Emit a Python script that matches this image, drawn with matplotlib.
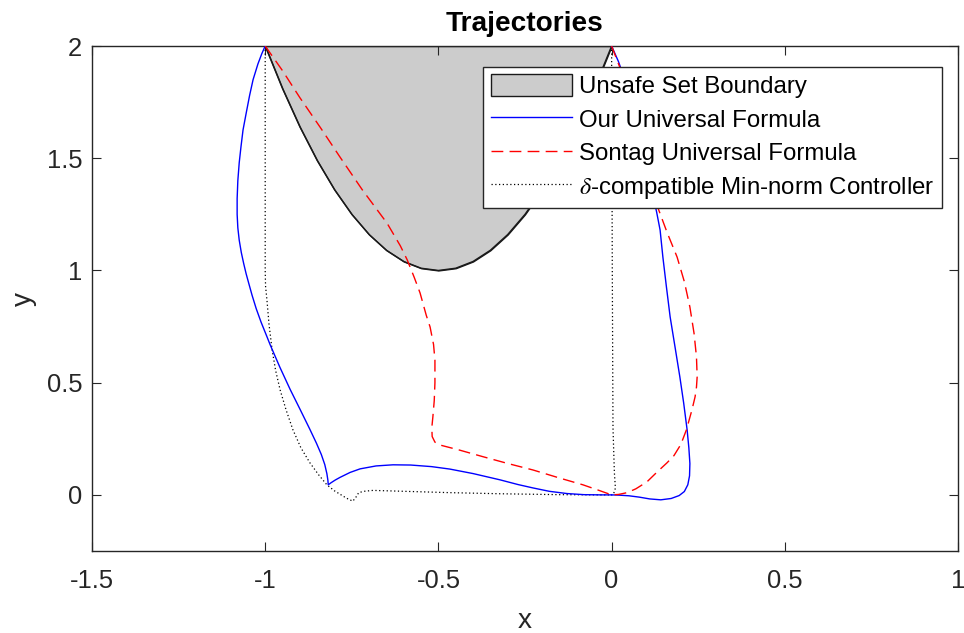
import matplotlib
matplotlib.use("Agg")
import matplotlib.pyplot as plt
from matplotlib.patches import Patch
from matplotlib.lines import Line2D

plt.rcParams["font.family"] = ["Liberation Sans", "DejaVu Sans"]
plt.rcParams["mathtext.fontset"] = "stix"

# Unsafe set boundary (parabola between x=-1 and x=0)
boundary_x = [-1.00, -0.95, -0.90, -0.85, -0.80, -0.75, -0.70, -0.65, -0.60, -0.55, -0.50,
              -0.45, -0.40, -0.35, -0.30, -0.25, -0.20, -0.15, -0.10, -0.05, 0.00]
boundary_y = [2.00, 1.81, 1.64, 1.49, 1.36, 1.25, 1.16, 1.09, 1.04, 1.01, 1.00,
              1.01, 1.04, 1.09, 1.16, 1.25, 1.36, 1.49, 1.64, 1.81, 2.00]

# Our universal formula: trajectory starting at (-1, 2)
ours_a_x = [-1.000, -1.010, -1.021, -1.035, -1.045, -1.055, -1.064, -1.070, -1.075, -1.079,
            -1.081, -1.081, -1.079, -1.075, -1.069, -1.062, -1.055, -1.047, -1.038, -1.026,
            -1.012, -0.995, -0.986, -0.958, -0.928, -0.899, -0.871, -0.852, -0.838, -0.828,
            -0.822, -0.819, -0.818, -0.810, -0.798, -0.784, -0.755, -0.726, -0.680, -0.631,
            -0.580, -0.520, -0.467, -0.400, -0.322, -0.270, -0.227, -0.180, -0.129, -0.080,
            -0.030, 0.000]
ours_a_y = [2.000, 1.965, 1.920, 1.850, 1.780, 1.700, 1.626, 1.550, 1.480, 1.400,
            1.320, 1.250, 1.190, 1.135, 1.080, 1.030, 0.985, 0.940, 0.890, 0.830,
            0.770, 0.705, 0.670, 0.570, 0.470, 0.380, 0.292, 0.230, 0.180, 0.135,
            0.095, 0.065, 0.045, 0.054, 0.066, 0.078, 0.100, 0.116, 0.129, 0.134,
            0.133, 0.126, 0.115, 0.095, 0.067, 0.046, 0.031, 0.016, 0.006, 0.001,
            0.000, 0.000]

# Our universal formula: trajectory starting at (0, 2)
ours_b_x = [0.000, 0.020, 0.045, 0.070, 0.095, 0.112, 0.120, 0.130, 0.140, 0.148,
            0.158, 0.169, 0.183, 0.197, 0.208, 0.218, 0.223, 0.226, 0.225, 0.220,
            0.210, 0.195, 0.172, 0.142, 0.110, 0.080, 0.050, 0.020, 0.000]
ours_b_y = [2.000, 1.930, 1.820, 1.680, 1.520, 1.400, 1.330, 1.260, 1.180, 1.060,
            0.930, 0.793, 0.660, 0.526, 0.410, 0.290, 0.210, 0.140, 0.085, 0.045,
            0.015, -0.003, -0.016, -0.022, -0.018, -0.010, -0.004, -0.001, 0.000]

# Sontag universal formula: trajectory starting at (-1, 2)
sontag_a_x = [-1.000, -0.950, -0.900, -0.840, -0.784, -0.720, -0.648, -0.610, -0.590, -0.570,
              -0.553, -0.535, -0.524, -0.514, -0.510, -0.510, -0.512, -0.516, -0.519, -0.518,
              -0.510, -0.495, -0.440, -0.371, -0.300, -0.227, -0.150, -0.083, -0.040, 0.000]
sontag_a_y = [2.000, 1.890, 1.770, 1.635, 1.505, 1.360, 1.210, 1.110, 1.047, 0.970,
              0.900, 0.800, 0.748, 0.670, 0.600, 0.500, 0.420, 0.347, 0.300, 0.260,
              0.235, 0.222, 0.200, 0.170, 0.140, 0.111, 0.075, 0.045, 0.022, 0.000]

# Sontag universal formula: trajectory starting at (0, 2)
sontag_b_x = [0.000, 0.025, 0.055, 0.085, 0.110, 0.134, 0.160, 0.189, 0.210, 0.226,
              0.238, 0.245, 0.247, 0.245, 0.241, 0.232, 0.216, 0.200, 0.180, 0.160,
              0.130, 0.102, 0.070, 0.045, 0.020, 0.000]
sontag_b_y = [2.000, 1.900, 1.760, 1.600, 1.440, 1.278, 1.170, 1.060, 0.950, 0.837,
              0.720, 0.615, 0.526, 0.480, 0.437, 0.379, 0.290, 0.225, 0.175, 0.143,
              0.100, 0.058, 0.027, 0.010, 0.002, 0.000]

# delta-compatible min-norm controller: trajectory starting at (-1, 2)
minnorm_a_x = [-1.000, -1.000, -1.000, -0.999, -0.995, -0.989, -0.980, -0.970, -0.957, -0.940,
               -0.920, -0.897, -0.871, -0.846, -0.822, -0.800, -0.784, -0.765, -0.747, -0.738,
               -0.730, -0.715, -0.689, -0.600, -0.467, -0.320, -0.150, 0.000]
minnorm_a_y = [2.000, 1.500, 1.000, 0.930, 0.869, 0.760, 0.646, 0.555, 0.468, 0.380,
               0.290, 0.210, 0.143, 0.090, 0.045, 0.018, 0.003, -0.015, -0.028, -0.010,
               0.010, 0.016, 0.020, 0.016, 0.010, 0.005, 0.001, 0.000]

# delta-compatible min-norm controller: trajectory starting at (0, 2)
minnorm_b_x = [0.000, 0.002, 0.004, 0.008, 0.011, 0.006, 0.000]
minnorm_b_y = [2.000, 1.000, 0.300, 0.100, 0.030, 0.006, 0.000]

legend_labels = ["Unsafe Set Boundary", "Our Universal Formula",
                 "Sontag Universal Formula", r"$\delta$-compatible Min-norm Controller"]

axis_color = (0.15, 0.15, 0.15)

fig = plt.figure(figsize=(9.64, 6.33), dpi=100)
ax = fig.add_axes([92 / 964, 1 - 551 / 633, 866 / 964, 505 / 633])

ax.fill_between(boundary_x, boundary_y, 2.0, facecolor=(0.8, 0.8, 0.8),
                edgecolor=(0.1, 0.1, 0.1), linewidth=1.0, zorder=1)
ax.plot(boundary_x, boundary_y, color=(0.1, 0.1, 0.1), linewidth=1.0, zorder=2)

blue = (0.0, 0.0, 1.0)
red = (1.0, 0.0, 0.0)
dash = (8.5, 4.5)
dot = (1.0, 2.0)

for xs, ys in [(ours_a_x, ours_a_y), (ours_b_x, ours_b_y)]:
    ax.plot(xs, ys, color=blue, linewidth=1.0, zorder=4)
for xs, ys in [(sontag_a_x, sontag_a_y), (sontag_b_x, sontag_b_y)]:
    ax.plot(xs, ys, color=red, linewidth=1.0, dashes=dash, zorder=4)
for xs, ys in [(minnorm_a_x, minnorm_a_y), (minnorm_b_x, minnorm_b_y)]:
    ax.plot(xs, ys, color="black", linewidth=0.9, dashes=dot, zorder=3)

ax.set_xlim(-1.5, 1.0)
ax.set_ylim(-0.25, 2.0)
ax.set_xticks([-1.5, -1.0, -0.5, 0.0, 0.5, 1.0])
ax.set_xticklabels(["-1.5", "-1", "-0.5", "0", "0.5", "1"])
ax.set_yticks([0.0, 0.5, 1.0, 1.5, 2.0])
ax.set_yticklabels(["0", "0.5", "1", "1.5", "2"])

ax.tick_params(axis="both", direction="in", length=6.3, width=0.8, color=axis_color,
               labelcolor=axis_color, labelsize=18.4, top=True, right=True)
ax.tick_params(axis="x", pad=13.0)
ax.tick_params(axis="y", pad=7.0)
for sp in ax.spines.values():
    sp.set_color(axis_color)
    sp.set_linewidth(1.0)

ax.set_xlabel("x", fontsize=20.2, color=axis_color, labelpad=11)
ax.set_ylabel("y", fontsize=20.2, color=axis_color, labelpad=7)
ax.set_title("Trajectories", fontsize=20.2, fontweight="bold", color="black", pad=11)

handles = [
    Patch(facecolor=(0.8, 0.8, 0.8), edgecolor=(0.1, 0.1, 0.1), linewidth=1.0),
    Line2D([], [], color=blue, linewidth=1.0),
    Line2D([], [], color=red, linewidth=1.0, dashes=dash),
    Line2D([], [], color="black", linewidth=0.9, dashes=dot),
]
leg = ax.legend(handles, legend_labels, loc="upper right",
                bbox_to_anchor=((942 - 92) / 866, (551 - 67) / 505),
                borderaxespad=0, fontsize=17.3, frameon=True, fancybox=False,
                framealpha=1, edgecolor=(0.15, 0.15, 0.15), handlelength=3.4,
                handleheight=1.04, handletextpad=0.3, labelspacing=0.38,
                borderpad=0.3)
leg.get_frame().set_linewidth(1.0)
for t in leg.get_texts():
    t.set_color("black")
leg.set_zorder(10)

fig.savefig("out.png", dpi=100)
